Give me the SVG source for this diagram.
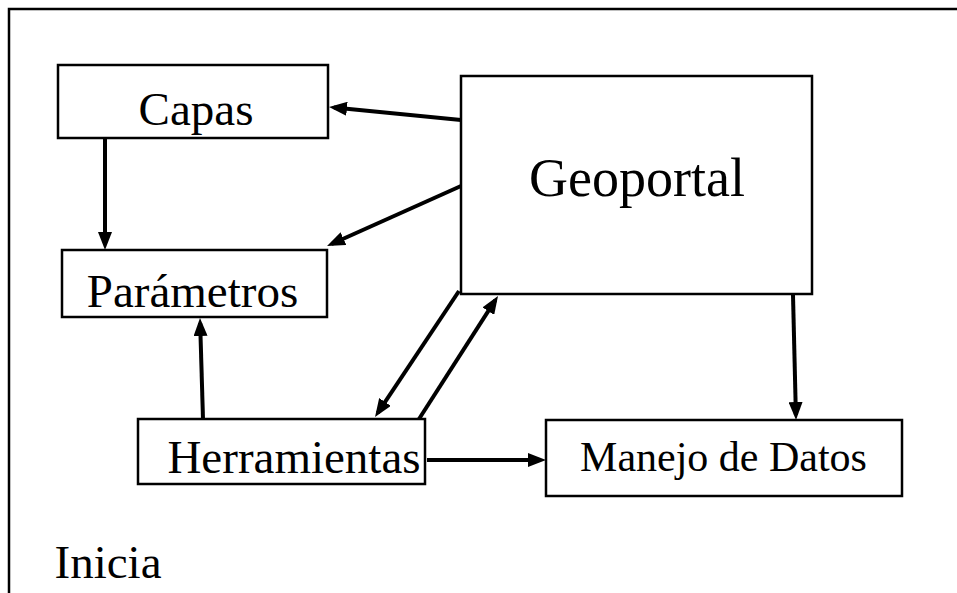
<svg xmlns="http://www.w3.org/2000/svg" width="957" height="593" viewBox="0 0 957 593">
<defs>
<style>
.box{fill:#fff;stroke:#000;stroke-width:2.5}
.lbl{font-family:"Liberation Serif","DejaVu Serif","Times New Roman",serif;font-size:47px;fill:#000;text-anchor:middle}
.con line{stroke:#000;stroke-width:4;marker-end:url(#ah)}
</style>
<marker id="ah" markerUnits="userSpaceOnUse" markerWidth="18" markerHeight="14" viewBox="0 0 18 14" refX="13" refY="7" orient="auto">
<path d="M0,0 L18,7 L0,14 z" fill="#000"/>
</marker>
</defs>
<rect width="957" height="593" fill="#fff"/>
<path d="M9,593 V9 H957" fill="none" stroke="#000" stroke-width="2.5"/>
<g id="capas"><rect class="box" x="58" y="65" width="270" height="73"/><text class="lbl" x="196" y="125">Capas</text></g>
<g id="parametros"><rect class="box" x="62" y="250" width="265" height="67"/><text class="lbl" x="192.5" y="307">Parámetros</text></g>
<g id="geoportal"><rect class="box" x="461" y="76" width="351" height="218"/><text class="lbl" x="637" y="196" style="font-size:54px">Geoportal</text></g>
<g id="herramientas"><rect class="box" x="138" y="419" width="287" height="65"/><text class="lbl" x="294" y="473">Herramientas</text></g>
<g id="manejo"><rect class="box" x="546" y="420" width="356" height="76"/><text class="lbl" x="723.5" y="471" style="font-size:42px">Manejo de Datos</text></g>
<text id="inicia" class="lbl" x="108" y="578">Inicia</text>
<g id="connectors" class="con">
<line x1="461" y1="120" x2="334" y2="107.5"/>
<line x1="461" y1="186" x2="331.6" y2="244"/>
<line x1="105" y1="139" x2="105" y2="245"/>
<line x1="203" y1="419" x2="200.15" y2="323"/>
<line x1="459" y1="291" x2="377.8" y2="412.8"/>
<line x1="419" y1="419" x2="495.3" y2="300.2"/>
<line x1="793" y1="295" x2="795.9" y2="415"/>
<line x1="427" y1="460" x2="541" y2="460"/>
</g>
</svg>
